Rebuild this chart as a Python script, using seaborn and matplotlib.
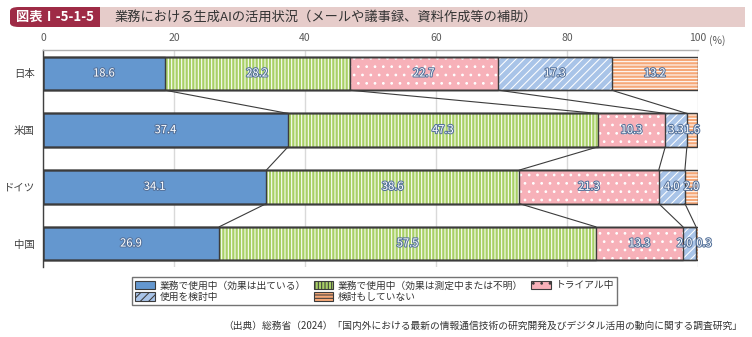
import numpy as np
import pandas as pd
import matplotlib
matplotlib.use("Agg")
import matplotlib.pyplot as plt
import matplotlib.patheffects as pe
from matplotlib.patches import FancyBboxPatch, Rectangle, Patch
import seaborn as sns

# ---------------- data ----------------
countries = ["日本", "米国", "ドイツ", "中国"]
series_names = [
    "業務で使用中（効果は出ている）",
    "業務で使用中（効果は測定中または不明）",
    "トライアル中",
    "使用を検討中",
    "検討もしていない",
]
in_use_effect = [18.6, 37.4, 34.1, 26.9]
in_use_unclear = [28.2, 47.3, 38.6, 57.5]
trial = [22.7, 10.3, 21.3, 13.3]
considering = [17.3, 3.3, 4.0, 2.0]
not_considering = [13.2, 1.6, 2.0, 0.3]
x_ticks = [0, 20, 40, 60, 80, 100]

title_tag = "図表Ⅰ-5-1-5"
title_text = "業務における生成AIの活用状況（メールや議事録、資料作成等の補助）"
source_text = "（出典）総務省（2024）「国内外における最新の情報通信技術の研究開発及びデジタル活用の動向に関する調査研究」"

# ---------------- style ----------------
colors = ["#6497CF", "#A8D066", "#F7B1B9", "#A9C4E8", "#F6A878"]
hatches = [None, "|||||", "..", "////", "-----"]
edge_dark = "#3c3c3c"
bar_w = 0.59

sns.set_theme(style="white")
plt.rcParams["font.family"] = ["Noto Sans CJK JP", "DejaVu Sans"]
plt.rcParams["hatch.linewidth"] = 0.75

W, H = 752, 337
fig = plt.figure(figsize=(W / 100, H / 100), dpi=100)
ax = fig.add_axes([43 / W, 1 - 267 / H, (698 - 43) / W, (267 - 50) / H])

values = np.array([in_use_effect, in_use_unclear, trial, considering, not_considering])
cum = np.cumsum(values, axis=0)
starts = cum - values

df = pd.DataFrame({"country": countries})
for j in range(len(series_names)):
    df[f"cum{j}"] = cum[j]

# fill layers (largest cumulative first so shorter ones overlap)
for j in reversed(range(len(series_names))):
    kw = dict(edgecolor="white", linewidth=0)
    if hatches[j]:
        kw["hatch"] = hatches[j]
    sns.barplot(data=df, x=f"cum{j}", y="country", orient="h", color=colors[j],
                saturation=1, width=bar_w, ax=ax, zorder=2, **kw)

# outlines
for j in reversed(range(len(series_names))):
    sns.barplot(data=df, x=f"cum{j}", y="country", orient="h", fill=False,
                color=edge_dark, saturation=1, width=bar_w, ax=ax, linewidth=1.0,
                zorder=3)

# connector lines
for i in range(len(countries) - 1):
    for j in range(len(series_names) - 1):
        ax.plot([cum[j][i], cum[j][i + 1]], [i + bar_w / 2, i + 1 - bar_w / 2],
                color=edge_dark, lw=0.8, zorder=3)

# value labels
label_offsets = {(3, 3): -3.5, (3, 4): 5.0}
for i in range(len(countries)):
    for j in range(len(series_names)):
        xc = starts[j][i] + values[j][i] / 2
        dx = label_offsets.get((i, j), 0)
        ax.annotate(f"{values[j][i]:.1f}", xy=(xc, i), xytext=(dx, 0),
                    textcoords="offset points", ha="center", va="center",
                    fontsize=8, color="white", zorder=5,
                    path_effects=[pe.withStroke(linewidth=1.5, foreground="#56739c")])

# axes styling
ax.set_xlim(0, 100)
ax.set_ylim(len(countries) - 1 + 0.414, -0.414)
ax.set_xlabel("")
ax.set_ylabel("")
ax.xaxis.tick_top()
ax.set_xticks(x_ticks)
ax.set_xticklabels([str(t) for t in x_ticks])
ax.tick_params(axis="x", length=0, pad=5, labelsize=7.5, labelcolor="#595959")
ax.tick_params(axis="y", which="major", length=0, pad=6, labelsize=7.5, labelcolor="#404040")
ax.set_yticks([0.5, 1.5, 2.5, len(countries) - 1 + 0.414], minor=True)
ax.tick_params(axis="y", which="minor", direction="in", length=4, width=1, color="#404040")
ax.grid(axis="x", color="#d9d9d9", lw=1, zorder=0)
ax.set_axisbelow(True)
for s in ["right", "bottom"]:
    ax.spines[s].set_visible(False)
ax.spines["top"].set_color("#b0b0b0")
ax.spines["top"].set_linewidth(1)
ax.spines["left"].set_color("#404040")
ax.spines["left"].set_linewidth(1)
fig.text(709 / W, 1 - 41 / H, "(%)", fontsize=7.5, color="#595959", ha="left", va="center")

# title bar
fig.patches.append(FancyBboxPatch((10 / W, 1 - 27 / H), 100 / W, 20 / H,
                                  boxstyle="round,pad=0,rounding_size=0.012",
                                  transform=fig.transFigure, facecolor="#9E2B46",
                                  edgecolor="none", zorder=1))
fig.patches.append(Rectangle((100 / W, 1 - 27 / H), 645 / W, 20 / H,
                             transform=fig.transFigure, facecolor="#E6CCCA",
                             edgecolor="none", zorder=2))
fig.text(55 / W, 1 - 17 / H, title_tag, fontsize=9.5, color="white", fontweight="bold",
         ha="center", va="center")
fig.text(115 / W, 1 - 17 / H, title_text, fontsize=9.5, color="#333333",
         ha="left", va="center")

# legend
handles = []
for j in range(len(series_names)):
    handles.append(Patch(facecolor=colors[j], edgecolor=edge_dark, linewidth=0.8,
                         hatch=hatches[j], label=series_names[j]))
order = [0, 3, 1, 4, 2]
leg = fig.legend([handles[k] for k in order], [series_names[k] for k in order],
                 loc="upper left", bbox_to_anchor=(132 / W, 1 - 277 / H),
                 ncol=3, fontsize=7, frameon=True, fancybox=False,
                 edgecolor="#505050", handlelength=2.0, handleheight=0.9,
                 columnspacing=0.8, handletextpad=0.5, borderpad=0.35,
                 labelspacing=0.15, borderaxespad=0)
leg.get_frame().set_linewidth(1.0)
for t in leg.get_texts():
    t.set_color("#333333")

# source
fig.text(742 / W, 1 - 326 / H, source_text, fontsize=7, color="#333333",
         ha="right", va="center")

fig.savefig("out.png", dpi=100)
